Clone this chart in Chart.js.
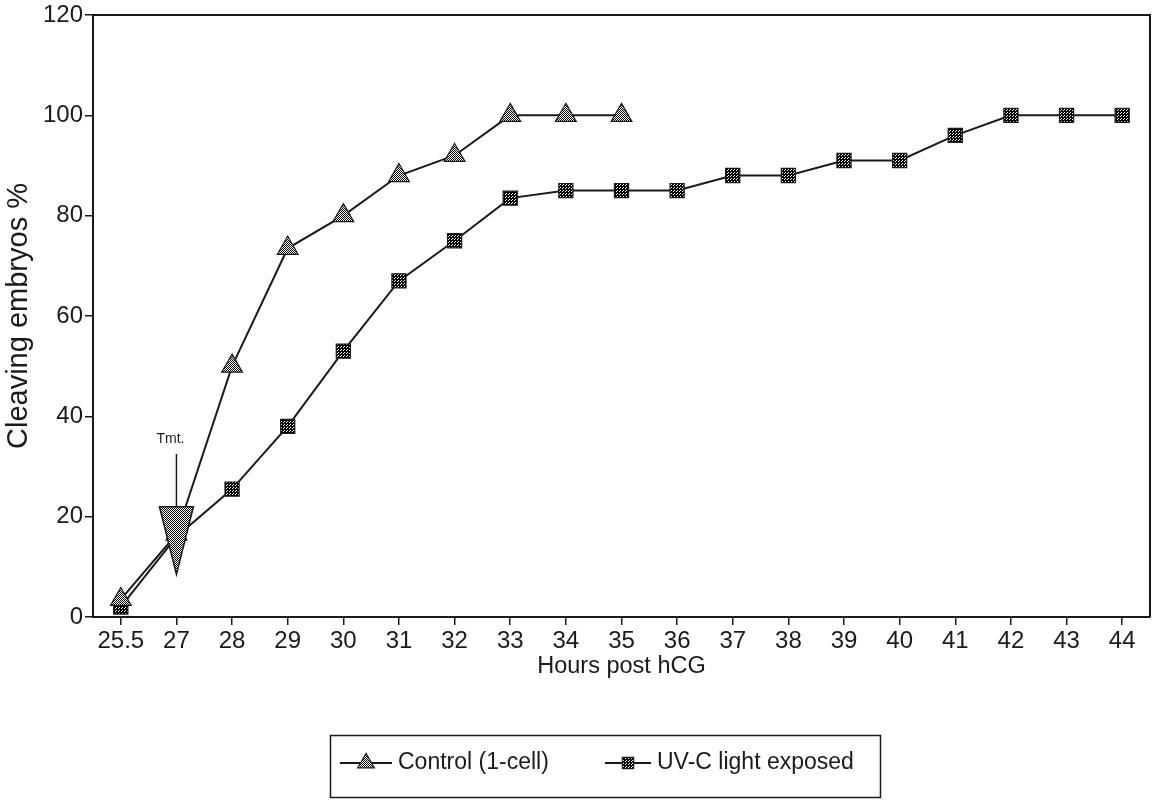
<!DOCTYPE html>
<html>
<head>
<meta charset="utf-8">
<script src="https://cdn.jsdelivr.net/npm/chart.js@4.4.1/dist/chart.umd.min.js"></script>
<style>
  html, body { margin: 0; padding: 0; background: #fff; }
  #wrap { width: 1154px; height: 800px; position: relative; }
</style>
</head>
<body>
<div id="wrap"><canvas id="c" width="1154" height="800"></canvas></div>
<script>
// ---- data ----
const HOURS = ['25.5','27','28','29','30','31','32','33','34','35','36','37','38','39','40','41','42','43','44'];
const CONTROL = [3.5, 16.5, 50, 73.5, 80, 88, 92, 100, 100, 100, null, null, null, null, null, null, null, null, null];
const UV = [2, 16, 25.5, 38, 53, 67, 75, 83.5, 85, 85, 85, 88, 88, 91, 91, 96, 100, 100, 100];
const Y_TICKS = [0, 20, 40, 60, 80, 100, 120];
const SERIES_NAMES = ['Control (1-cell)', 'UV-C light exposed'];
const TMT = { label: 'Tmt.', at: '27', textValue: 35.5, lineTop: 32.5, arrowTop: 22, arrowTip: 8.5 };

const SANS = '"Liberation Sans", Arial, sans-serif';
const INK = '#1a1a1a';

const canvas = document.getElementById('c');
const ctx = canvas.getContext('2d');

function makePattern(cells, size) {
  const c = document.createElement('canvas');
  c.width = c.height = size;
  const g = c.getContext('2d');
  g.fillStyle = '#fff';
  g.fillRect(0, 0, size, size);
  g.fillStyle = '#000';
  cells.forEach(([x, y]) => g.fillRect(x, y, 1, 1));
  return ctx.createPattern(c, 'repeat');
}
const triPattern = makePattern([[0,0],[1,1]], 2);
const sqPattern = makePattern([[0,0],[2,0],[1,1],[0,2],[2,2],[1,0],[0,1]], 3);

const boxPlugin = {
  id: 'box',
  afterDraw(chart) {
    const { ctx, chartArea: a, scales } = chart;
    ctx.save();
    ctx.strokeStyle = INK;
    ctx.lineWidth = 2;
    ctx.beginPath();
    ctx.moveTo(a.left, a.top);
    ctx.lineTo(a.right, a.top);
    ctx.lineTo(a.right, a.bottom);
    ctx.stroke();

    // Tmt annotation
    const xs = scales.x, ys = scales.y;
    const px = xs.getPixelForValue(HOURS.indexOf(TMT.at));
    ctx.fillStyle = INK;
    ctx.font = '14px ' + SANS;
    ctx.textAlign = 'center';
    ctx.textBaseline = 'middle';
    ctx.fillText(TMT.label, px - 6, ys.getPixelForValue(TMT.textValue));
    ctx.lineWidth = 1.5;
    ctx.beginPath();
    ctx.moveTo(px, ys.getPixelForValue(TMT.lineTop));
    ctx.lineTo(px, ys.getPixelForValue(TMT.arrowTop));
    ctx.stroke();
    const top = ys.getPixelForValue(TMT.arrowTop), tip = ys.getPixelForValue(TMT.arrowTip);
    ctx.beginPath();
    ctx.moveTo(px - 17, top);
    ctx.lineTo(px + 17, top);
    ctx.lineTo(px, tip);
    ctx.closePath();
    ctx.fillStyle = triPattern;
    ctx.fill();
    ctx.lineWidth = 1.5;
    ctx.stroke();

    // legend box
    ctx.lineWidth = 1.5;
    ctx.strokeStyle = INK;
    ctx.strokeRect(330.5, 735.5, 550, 62);
    const items = [
      { x0: 340, x1: 392, tx: 398, ds: chart.data.datasets[0] },
      { x0: 605, x1: 651, tx: 657, ds: chart.data.datasets[1] }
    ];
    const ly = 763;
    items.forEach(it => {
      ctx.lineWidth = 2;
      ctx.beginPath();
      ctx.moveTo(it.x0, ly);
      ctx.lineTo(it.x1, ly);
      ctx.stroke();
      ctx.fillStyle = it.ds.pointBackgroundColor;
      ctx.strokeStyle = INK;
      ctx.lineWidth = 1.2;
      Chart.helpers.drawPoint(ctx, {
        pointStyle: it.ds.pointStyle,
        radius: it.ds.pointRadius * 0.8,
        rotation: 0,
        borderWidth: 1.2
      }, (it.x0 + it.x1) / 2, ly);
      ctx.fillStyle = INK;
      ctx.font = '23px ' + SANS;
      ctx.textAlign = 'left';
      ctx.textBaseline = 'middle';
      ctx.fillText(it.ds.label, it.tx, ly);
    });
    ctx.restore();
  }
};

new Chart(ctx, {
  type: 'line',
  data: {
    labels: HOURS,
    datasets: [
      {
        label: SERIES_NAMES[0],
        data: CONTROL,
        borderColor: INK,
        borderWidth: 2,
        pointStyle: 'triangle',
        pointRadius: 12,
        pointBackgroundColor: triPattern,
        pointBorderColor: INK,
        pointBorderWidth: 1.2,
        tension: 0,
        spanGaps: false
      },
      {
        label: SERIES_NAMES[1],
        data: UV,
        borderColor: INK,
        borderWidth: 2,
        pointStyle: 'rect',
        pointRadius: 10,
        pointBackgroundColor: sqPattern,
        pointBorderColor: INK,
        pointBorderWidth: 1.2,
        tension: 0
      }
    ]
  },
  options: {
    responsive: false,
    animation: false,
    events: [],
    layout: { autoPadding: false, padding: { top: 15, right: 4, left: 0, bottom: 113 } },
    plugins: { legend: { display: false }, tooltip: { enabled: false } },
    scales: {
      x: {
        type: 'category',
        offset: true,
        border: { color: INK, width: 2 },
        grid: { display: true, drawOnChartArea: false, drawTicks: true, tickLength: 8, color: INK, lineWidth: 1.5 },
        ticks: { color: INK, font: { family: SANS, size: 24 }, padding: 2, maxRotation: 0, autoSkip: false },
        title: { display: true, text: 'Hours post hCG', color: INK, font: { family: SANS, size: 23.5 }, padding: { top: 0, bottom: 6 } },
        afterFit(s) { s.height = 70; s.paddingLeft = 0; s.paddingRight = 0; }
      },
      y: {
        min: 0, max: 120,
        afterBuildTicks(s) { s.ticks = Y_TICKS.map(v => ({ value: v })); },
        border: { color: INK, width: 2 },
        grid: { display: true, drawOnChartArea: false, drawTicks: true, tickLength: 8, color: INK, lineWidth: 1.5 },
        ticks: { color: INK, font: { family: SANS, size: 24 }, padding: 2 },
        title: { display: true, text: 'Cleaving embryos %', color: INK, font: { family: SANS, size: 29 }, padding: { top: 2, bottom: 4 } },
        afterFit(s) { s.width = 93; s.paddingTop = 0; s.paddingBottom = 0; }
      }
    }
  },
  plugins: [boxPlugin]
});
</script>
</body>
</html>
